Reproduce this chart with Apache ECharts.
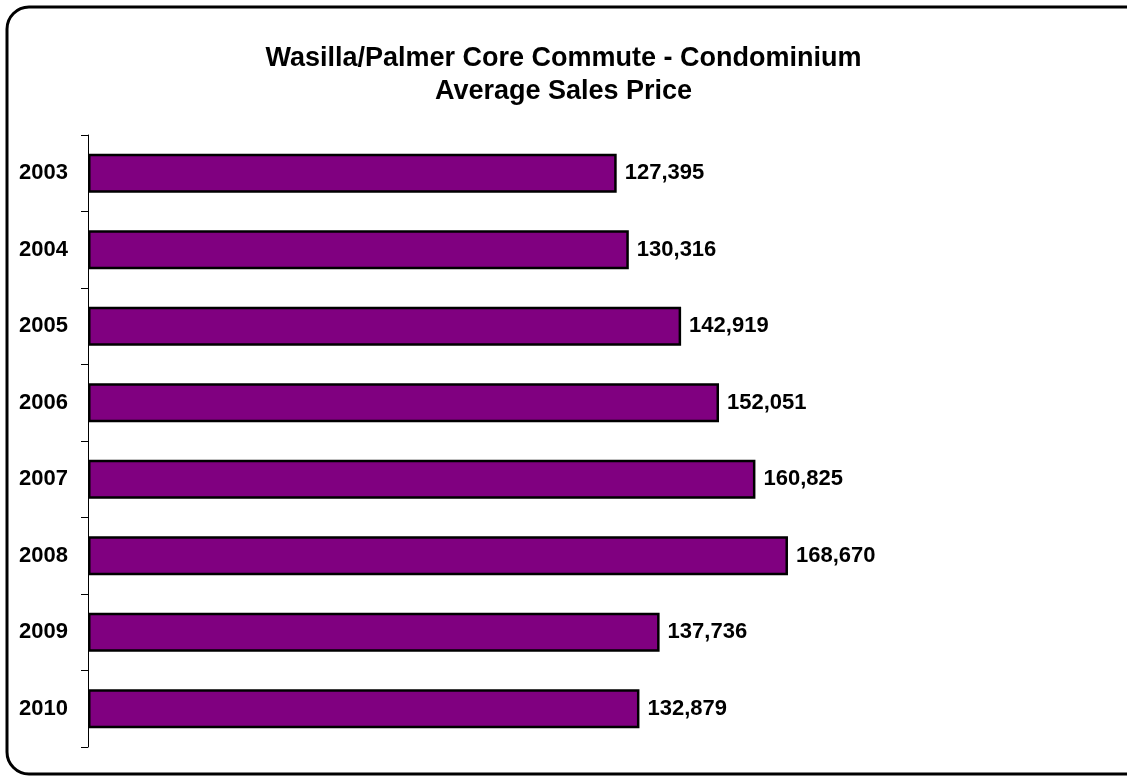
<!DOCTYPE html>
<html>
<head>
<meta charset="utf-8">
<script src="https://cdn.jsdelivr.net/npm/echarts@6/dist/echarts.min.js"></script>
<style>
html,body{margin:0;padding:0;background:#fff;}
#chart{width:1127px;height:777px;}
</style>
</head>
<body>
<div id="chart"></div>
<script>
const titleLines = ['Wasilla/Palmer Core Commute - Condominium', 'Average Sales Price'];
const years = ['2003','2004','2005','2006','2007','2008','2009','2010'];
const prices = [127395, 130316, 142919, 152051, 160825, 168670, 137736, 132879];

const chart = echarts.init(document.getElementById('chart'));
const fmt = v => Number(v).toLocaleString('en-US');
chart.setOption({
  animation: false,
  backgroundColor: '#ffffff',
  title: {
    text: titleLines.join('\n'),
    left: 'center',
    top: 37,
    textStyle: {
      fontFamily: 'Liberation Sans, Arial, sans-serif',
      fontWeight: 'bold',
      fontSize: 27,
      lineHeight: 33,
      color: '#000'
    }
  },
  graphic: [{
    type: 'rect',
    shape: {x: 7, y: 7, width: 1140, height: 767, r: 22},
    style: {fill: 'none', stroke: '#000', lineWidth: 3},
    silent: true,
    z: 100
  }],
  grid: {left: 88, right: 209, top: 135, bottom: 30, containLabel: false},
  xAxis: {
    type: 'value',
    min: 0,
    max: 200000,
    show: false
  },
  yAxis: {
    type: 'category',
    data: years,
    inverse: true,
    axisLine: {show: true, lineStyle: {color: '#000', width: 1}},
    axisTick: {show: true, length: 7, lineStyle: {color: '#000'}},
    axisLabel: {
      margin: 20,
      fontFamily: 'Liberation Sans, Arial, sans-serif',
      fontWeight: 'bold',
      fontSize: 22,
      color: '#000'
    }
  },
  series: [{
    type: 'bar',
    data: prices,
    barWidth: '51%',
    itemStyle: {color: '#800080', borderColor: '#000', borderWidth: 2.5},
    label: {
      show: true,
      position: 'right',
      distance: 8,
      formatter: p => fmt(p.value),
      fontFamily: 'Liberation Sans, Arial, sans-serif',
      fontWeight: 'bold',
      fontSize: 22,
      color: '#000'
    }
  }]
});
</script>
</body>
</html>
